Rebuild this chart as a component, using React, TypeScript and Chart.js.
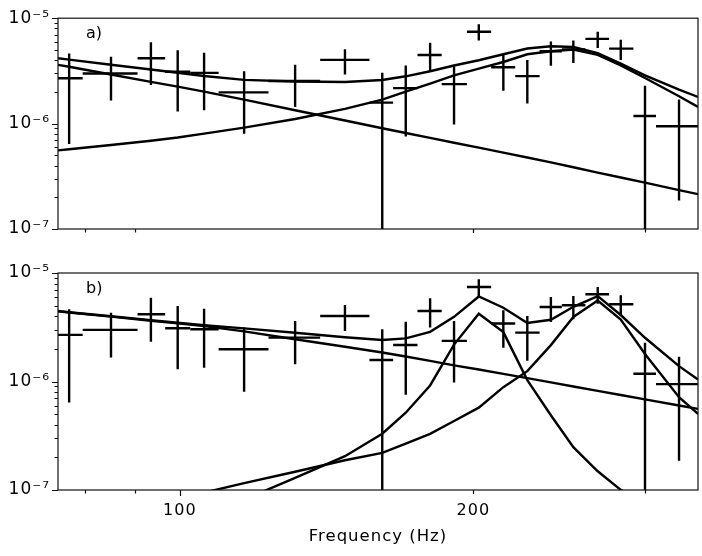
import React, { useEffect, useRef } from "react";
import { Chart, registerables } from "chart.js";

Chart.register(...registerables);

// ---- Observed spectrum (same in both panels) ----
const freq = [77.0, 85.0, 93.4, 99.5, 105.9, 116.4, 131.3, 147.7, 161.3, 170.5, 180.6, 191.1, 202.6, 214.7, 227.2, 240.2, 253.3, 268.3, 283.3, 300.0, 325.1];
const freqLo = [74.0, 79.5, 90.5, 96.6, 102.5, 109.6, 123.3, 139.3, 156.5, 165.5, 175.3, 185.6, 197.0, 208.6, 220.8, 233.9, 246.5, 260.6, 275.6, 291.9, 307.9];
const freqHi = [79.5, 90.5, 96.6, 102.5, 109.6, 123.3, 139.3, 156.5, 165.5, 175.3, 185.6, 197.0, 208.6, 220.8, 233.9, 246.5, 260.6, 275.6, 291.9, 307.9, 343.3];
const power = [2.69e-6, 2.99e-6, 4.17e-6, 3.10e-6, 3.03e-6, 1.98e-6, 2.54e-6, 4.02e-6, 1.58e-6, 2.17e-6, 4.47e-6, 2.37e-6, 7.43e-6, 3.42e-6, 2.82e-6, 4.86e-6, 5.04e-6, 6.37e-6, 5.15e-6, 1.18e-6, 9.45e-7];
const powerHi = [4.63e-6, 4.31e-6, 5.92e-6, 4.97e-6, 4.69e-6, 3.14e-6, 3.61e-6, 5.07e-6, 3.03e-6, 3.56e-6, 5.85e-6, 3.61e-6, 8.75e-6, 4.54e-6, 4.02e-6, 6.01e-6, 6.14e-6, 7.43e-6, 6.23e-6, 2.28e-6, 1.69e-6];
const powerLo = [6.40e-7, 1.66e-6, 2.32e-6, 1.30e-6, 1.34e-6, 8.03e-7, 1.44e-6, 2.92e-6, 1e-9, 7.54e-7, 3.14e-6, 9.78e-7, 6.14e-6, 2.05e-6, 1.55e-6, 3.54e-6, 3.75e-6, 5.22e-6, 4.02e-6, 1e-9, 1.86e-7];

// ---- Model curves, sampled at these frequencies ----
const modelFreq = [75, 77.0, 85.0, 93.4, 99.5, 105.9, 116.4, 131.3, 147.7, 161.3, 170.5, 180.6, 191.1, 202.6, 214.7, 227.2, 240.2, 253.3, 268.3, 283.3, 300.0, 325.1, 340];

// panel a)
const powerLawA = [3.61e-6, 3.46e-6, 2.92e-6, 2.49e-6, 2.24e-6, 2.01e-6, 1.69e-6, 1.34e-6, 1.07e-6, 9.04e-7, 8.15e-7, 7.31e-7, 6.58e-7, 5.91e-7, 5.30e-7, 4.77e-7, 4.28e-7, 3.85e-7, 3.43e-7, 3.08e-7, 2.75e-7, 2.34e-7, 2.14e-7];
const lorentzA = [5.57e-7, 5.71e-7, 6.27e-7, 6.87e-7, 7.38e-7, 8.03e-7, 9.16e-7, 1.106e-6, 1.378e-6, 1.686e-6, 2.01e-6, 2.40e-6, 2.87e-6, 3.32e-6, 3.84e-6, 4.55e-6, 4.86e-6, 5.04e-6, 4.49e-6, 3.57e-6, 2.71e-6, 1.82e-6, 1.44e-6];
const totalA = [4.17e-6, 4.05e-6, 3.62e-6, 3.26e-6, 3.04e-6, 2.83e-6, 2.60e-6, 2.51e-6, 2.48e-6, 2.59e-6, 2.81e-6, 3.14e-6, 3.56e-6, 3.99e-6, 4.55e-6, 5.16e-6, 5.41e-6, 5.33e-6, 4.67e-6, 3.70e-6, 2.87e-6, 2.10e-6, 1.79e-6];

// panel b)
const powerLawB = [4.43e-6, 4.33e-6, 3.96e-6, 3.63e-6, 3.43e-6, 3.24e-6, 2.90e-6, 2.45e-6, 2.09e-6, 1.85e-6, 1.70e-6, 1.55e-6, 1.41e-6, 1.29e-6, 1.174e-6, 1.074e-6, 9.82e-7, 9.00e-7, 8.20e-7, 7.51e-7, 6.84e-7, 6.01e-7, 5.59e-7];
const lorentz1B = [3.2e-8, 3.3e-8, 4.0e-8, 4.8e-8, 5.5e-8, 6.5e-8, 8.15e-8, 1.296e-7, 2.05e-7, 3.30e-7, 5.16e-7, 9.19e-7, 2.19e-6, 4.21e-6, 2.85e-6, 1.029e-6, 4.89e-7, 2.48e-7, 1.488e-7, 1.004e-7, 7.38e-8, 5.25e-8, 4.62e-8];
const lorentz2B = [5.8e-8, 6.0e-8, 6.8e-8, 7.8e-8, 8.57e-8, 9.46e-8, 1.158e-7, 1.472e-7, 1.88e-7, 2.20e-7, 2.68e-7, 3.29e-7, 4.32e-7, 5.74e-7, 8.87e-7, 1.246e-6, 2.165e-6, 3.93e-6, 5.57e-6, 3.72e-6, 1.79e-6, 7.17e-7, 5.03e-7];
const totalB = [4.46e-6, 4.35e-6, 3.99e-6, 3.68e-6, 3.48e-6, 3.30e-6, 3.09e-6, 2.81e-6, 2.56e-6, 2.41e-6, 2.50e-6, 2.87e-6, 3.94e-6, 6.07e-6, 4.78e-6, 3.46e-6, 3.71e-6, 4.88e-6, 6.13e-6, 4.10e-6, 2.53e-6, 1.385e-6, 1.044e-6];

// ---- Axes ----
const xMin = 75;
const xMax = 340;
const yMin = 1e-7;
const yMax = 1e-5;
const xTickValues = [100, 200];
const xTickLabels = ["100", "200"];
const xMinorTicks = [80, 90, 300];
const yTickValues = [1e-7, 1e-6, 1e-5];
const yTickLabels = ["10\u207B\u2077", "10\u207B\u2076", "10\u207B\u2075"];
const yMinorTicks = [2e-7, 3e-7, 4e-7, 5e-7, 6e-7, 7e-7, 8e-7, 9e-7, 2e-6, 3e-6, 4e-6, 5e-6, 6e-6, 7e-6, 8e-6, 9e-6];
const xTitle = "Frequency (Hz)";

const FONT = "'DejaVu Sans', 'Liberation Sans', sans-serif";
const LW = 2.4;

function makePlugin(label: string, showMajorX: boolean) {
  return {
    id: "decor_" + label,
    beforeDraw(chart: any) {
      (chart.ctx as any).letterSpacing = "1px";
    },
    afterDatasetsDraw(chart: any) {
      const { ctx, chartArea: a, scales } = chart;
      const x = scales.x;
      const y = scales.y;
      // crosses (error bars)
      ctx.save();
      ctx.beginPath();
      ctx.rect(a.left, a.top, a.right - a.left, a.bottom - a.top);
      ctx.clip();
      ctx.strokeStyle = "#000";
      ctx.lineWidth = LW;
      ctx.lineCap = "butt";
      for (let i = 0; i < freq.length; i++) {
        const px = x.getPixelForValue(freq[i]);
        const py = y.getPixelForValue(power[i]);
        ctx.beginPath();
        ctx.moveTo(x.getPixelForValue(freqLo[i]), py);
        ctx.lineTo(x.getPixelForValue(freqHi[i]), py);
        ctx.moveTo(px, y.getPixelForValue(powerHi[i]));
        ctx.lineTo(px, y.getPixelForValue(powerLo[i]));
        ctx.stroke();
      }
      ctx.restore();

      // frame
      ctx.save();
      ctx.strokeStyle = "#111";
      ctx.lineWidth = 1.2;
      ctx.strokeRect(a.left, a.top, a.right - a.left, a.bottom - a.top);
      // y ticks
      ctx.beginPath();
      for (const v of yTickValues) {
        const py = Math.round(y.getPixelForValue(v)) + 0.5;
        ctx.moveTo(a.left, py);
        ctx.lineTo(a.left - 6, py);
      }
      for (const v of yMinorTicks) {
        const py = Math.round(y.getPixelForValue(v)) + 0.5;
        ctx.moveTo(a.left, py);
        ctx.lineTo(a.left - 3.5, py);
      }
      // x ticks
      xTickValues.forEach((v, i) => {
        const px = Math.round(x.getPixelForValue(v)) + 0.5;
        if (v === 100 && !showMajorX) return;
        ctx.moveTo(px, a.bottom);
        ctx.lineTo(px, a.bottom + (i === 0 ? 6 : 4));
      });
      for (const v of xMinorTicks) {
        const px = Math.round(x.getPixelForValue(v)) + 0.5;
        ctx.moveTo(px, a.bottom);
        ctx.lineTo(px, a.bottom + 3.5);
      }
      ctx.stroke();
      // panel label
      (ctx as any).letterSpacing = "0px";
      ctx.fillStyle = "#000";
      ctx.font = "16px " + FONT;
      ctx.textAlign = "left";
      ctx.textBaseline = "alphabetic";
      ctx.fillText(label, a.left + 28, a.top + 19.5);
      ctx.restore();
    },
  };
}

type PanelProps = {
  top: number;
  height: number;
  padTop: number;
  padBottom: number;
  label: string;
  curves: number[][];
  showX: boolean;
};

function Panel({ top, height, padTop, padBottom, label, curves, showX }: PanelProps) {
  const ref = useRef<HTMLCanvasElement | null>(null);
  useEffect(() => {
    if (!ref.current) return;
    const datasets = curves.map((vals) => ({
      type: "line" as const,
      data: modelFreq.map((f, i) => ({ x: f, y: vals[i] })),
      borderColor: "#000",
      borderWidth: LW,
      pointRadius: 0,
      fill: false,
      tension: 0,
      clip: 0,
    }));
    const chart = new Chart(ref.current, {
      type: "line",
      data: { datasets },
      options: {
        animation: false,
        responsive: false,
        events: [],
        layout: { padding: { top: padTop, right: 4, bottom: padBottom, left: 0 } },
        plugins: { legend: { display: false }, tooltip: { enabled: false } },
        scales: {
          x: {
            type: "logarithmic",
            min: xMin,
            max: xMax,
            display: showX,
            grid: { display: false, drawTicks: false },
            border: { display: false },
            afterBuildTicks: (s: any) => {
              s.ticks = xTickValues.map((v) => ({ value: v }));
            },
            afterFit: (s: any) => {
              if (showX) s.height = 66;
            },
            ticks: {
              autoSkip: false,
              maxRotation: 0,
              padding: 11,
              color: "#000",
              font: { family: FONT, size: 16 },
              callback: (_v: any, i: number) => xTickLabels[i],
            },
            title: {
              display: true,
              text: xTitle,
              color: "#000",
              font: { family: FONT, size: 16.5 },
              padding: { top: 0, bottom: 9 },
            },
          },
          y: {
            type: "logarithmic",
            min: yMin,
            max: yMax,
            grid: { display: false, drawTicks: false },
            border: { display: false },
            afterBuildTicks: (s: any) => {
              s.ticks = yTickValues.map((v) => ({ value: v }));
            },
            afterFit: (s: any) => {
              s.width = 58;
            },
            ticks: {
              autoSkip: false,
              padding: 8,
              color: "#000",
              font: { family: FONT, size: 17 },
              callback: (_v: any, i: number) => yTickLabels[i],
            },
          },
        },
      } as any,
      plugins: [makePlugin(label, showX)],
    });
    return () => chart.destroy();
  }, []);
  return (
    <canvas
      ref={ref}
      width={702}
      height={height}
      style={{ position: "absolute", left: 0, top, width: 702, height, display: "block" }}
    />
  );
}

export default function App() {
  return (
    <div style={{ position: "absolute", left: 0, top: 0, width: 702, height: 556, background: "#fff" }}>
      <Panel top={0} height={250} padTop={12} padBottom={21} label="a)" curves={[powerLawA, lorentzA, totalA]} showX={false} />
      <Panel top={250} height={306} padTop={23} padBottom={0} label="b)" curves={[powerLawB, lorentz1B, lorentz2B, totalB]} showX={true} />
    </div>
  );
}
